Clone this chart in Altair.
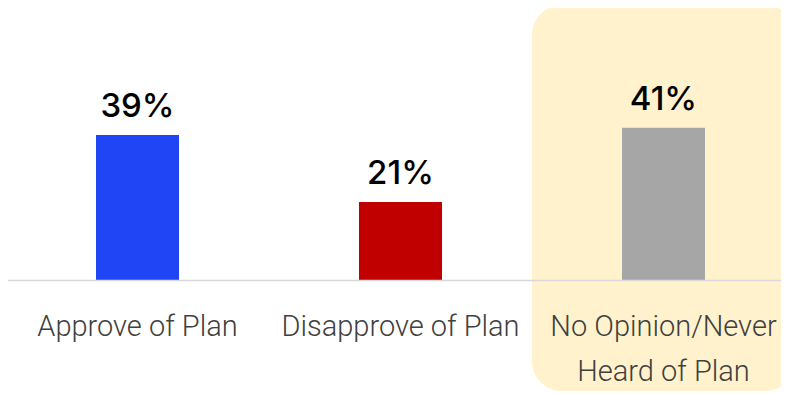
import altair as alt
import pandas as pd

categories = ["Approve of Plan", "Disapprove of Plan", "No Opinion/Never\nHeard of Plan"]
values = [39, 21, 41]
colors = ["#1F45F5", "#C00000", "#A6A6A6"]
value_labels = ["39%", "21%", "41%"]
highlight_category = ["No Opinion/Never\nHeard of Plan"]
highlight_top = [74]
highlight_bottom = [-29.9]

df = pd.DataFrame({"category": categories, "value": values, "color": colors, "label": value_labels})
hl = pd.DataFrame({"category": highlight_category, "top": highlight_top, "bottom": highlight_bottom})

xscale = alt.Scale(domain=categories, paddingInner=0.6844, paddingOuter=0.3422)
yscale = alt.Scale(domain=[0, 74], nice=False, zero=True)

x_enc = alt.X(
    "category:N",
    scale=xscale,
    sort=categories,
    title=None,
    axis=alt.Axis(
        labelAngle=0,
        labelFont="Roboto",
        labelFontWeight=300,
        labelFontSize=29,
        labelColor="#404040",
        labelPadding=32,
        labelLineHeight=45,
        labelExpr="split(datum.label, '\\n')",
        ticks=False,
        domainColor="#D9D9D9",
        domainWidth=1.5,
        zindex=1,
        labelLimit=400,
    ),
)

highlight = alt.Chart(hl).mark_bar(
    color="#FFF2CC", cornerRadius=30, width=alt.RelativeBandSize(3.1687)
).encode(
    x=x_enc,
    y=alt.Y("top:Q", scale=yscale, axis=None),
    y2="bottom:Q",
)

bars = alt.Chart(df).mark_bar().encode(
    x=x_enc,
    y=alt.Y("value:Q", scale=yscale, axis=None),
    color=alt.Color("color:N", scale=None),
)

text = alt.Chart(df).mark_text(
    font="Inter", fontSize=33, fontWeight=500, color="#000000", baseline="alphabetic", dy=-18
).encode(
    x=x_enc,
    y=alt.Y("value:Q", scale=yscale, axis=None),
    text="label:N",
)

chart = alt.layer(highlight, bars, text).properties(
    width=789,
    height=275,
    padding={"left": -2, "top": -3, "right": -14, "bottom": 112},
    autosize=alt.AutoSizeParams(type="none"),
).configure_view(stroke=None)

chart.save("out.html", embed_options={"renderer": "svg", "actions": False})
